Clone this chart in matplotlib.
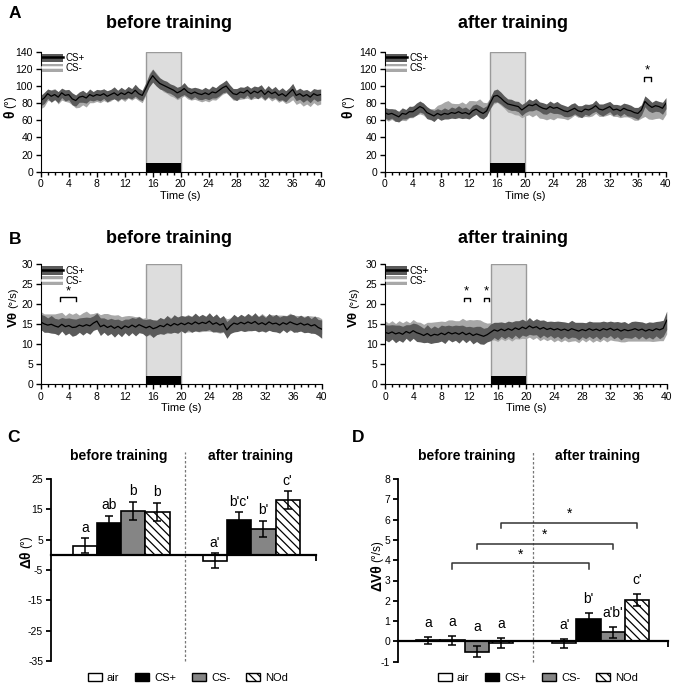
import matplotlib
matplotlib.use('agg')
import matplotlib.pyplot as plt
from matplotlib.patches import Patch
from matplotlib.lines import Line2D
from matplotlib.ticker import MultipleLocator
import numpy as np

plt.rcParams['font.family'] = ['Liberation Sans', 'DejaVu Sans']
plt.rcParams['hatch.linewidth'] = 0.9
plt.rcParams['axes.unicode_minus'] = False

W, H = 675, 684

# sampling of the traces (s)
times = np.arange(0, 40.5, 0.5)

# A: head angle theta (deg), mean traces
a_pre_csp = [83, 86, 91, 88, 90, 87, 92, 89, 90, 85,
             83, 87, 88, 86, 90, 88, 90, 89, 91, 88,
             90, 92, 89, 92, 90, 93, 91, 95, 91, 89,
             97, 106, 112, 107, 103, 101, 99, 97, 95, 92,
             94, 97, 93, 91, 93, 91, 90, 92, 90, 93,
             92, 95, 98, 100, 95, 91, 90, 93, 92, 95,
             91, 94, 92, 95, 90, 94, 91, 93, 89, 91,
             88, 92, 96, 89, 91, 88, 90, 87, 91, 89,
             90]
a_pre_csm = [80, 83, 89, 89, 91, 86, 90, 88, 88, 84,
             81, 82, 84, 82, 86, 87, 88, 87, 90, 87,
             89, 91, 88, 91, 89, 92, 90, 93, 89, 87,
             95, 108, 114, 109, 104, 100, 97, 95, 93, 91,
             92, 95, 91, 89, 91, 89, 88, 90, 89, 91,
             90, 93, 97, 99, 94, 90, 89, 91, 91, 93,
             90, 92, 91, 93, 89, 92, 89, 91, 88, 89,
             86, 88, 90, 85, 86, 83, 85, 83, 86, 84,
             85]
a_post_csp = [69, 67, 68, 66, 64, 68, 67, 70, 70, 73,
              76, 74, 69, 67, 65, 68, 66, 68, 67, 69,
              68, 70, 68, 69, 67, 71, 73, 70, 68, 71,
              80, 88, 89, 86, 82, 79, 78, 77, 76, 72,
              75, 78, 77, 79, 76, 74, 73, 76, 74, 75,
              73, 71, 70, 72, 74, 71, 70, 73, 72, 74,
              77, 73, 72, 74, 76, 72, 73, 71, 74, 72,
              71, 69, 68, 72, 82, 78, 75, 77, 76, 74,
              80]
a_post_csm = [68, 66, 67, 65, 65, 67, 66, 69, 70, 72,
              74, 73, 68, 67, 68, 71, 73, 75, 76, 74,
              73, 74, 75, 73, 76, 77, 76, 78, 75, 74,
              80, 86, 87, 84, 80, 76, 74, 73, 72, 70,
              71, 73, 70, 72, 69, 68, 67, 69, 68, 70,
              69, 68, 67, 70, 72, 70, 69, 71, 70, 72,
              74, 71, 70, 72, 73, 70, 71, 69, 71, 70,
              69, 67, 66, 69, 70, 68, 67, 69, 68, 67,
              73]
# half-width of the SEM bands (deg)
a_sem = [6.0, 6.5, 5.5, 7.0, 6.0, 6.5, 5.5, 6.5, 6.0, 7.0,
         6.5, 6.0, 7.0, 6.0, 6.5, 5.5, 6.0, 6.5, 5.5, 6.5,
         6.0, 7.0, 6.0, 6.5, 5.5, 6.5, 6.0, 7.0, 6.5, 6.0,
         6.5, 7.0, 7.5, 7.0, 6.5, 6.0, 6.5, 5.5, 6.0, 6.5,
         6.0, 7.0, 6.0, 6.5, 5.5, 6.5, 6.0, 6.5, 6.0, 7.0,
         6.0, 6.5, 6.0, 7.0, 6.5, 6.0, 7.0, 6.0, 6.5, 5.5,
         6.5, 6.0, 7.0, 6.5, 6.0, 6.5, 5.5, 6.5, 6.0, 7.0,
         6.5, 6.0, 7.0, 6.0, 6.5, 7.0, 6.0, 6.5, 6.0, 7.0,
         6.5]

# B: angular velocity V-theta (deg/s)
b_pre_csp = [15.6, 15.1, 14.8, 15.0, 14.6, 14.3, 15.0, 14.4, 14.7, 14.2,
             14.3, 14.8, 14.5, 14.9, 14.6, 15.3, 15.8, 14.4, 14.8, 14.2,
             14.6, 14.0, 14.5, 13.9, 14.6, 14.2, 14.8, 14.3, 14.9, 14.5,
             14.1, 14.5, 13.9, 14.2, 14.7, 14.4, 15.1, 14.6, 15.2, 14.8,
             15.3, 14.9, 15.4, 15.0, 15.6, 15.1, 15.5, 15.2, 15.8, 15.0,
             15.4, 14.8, 15.2, 13.6, 14.6, 15.3, 15.0, 15.5, 15.1, 15.6,
             15.2, 15.7, 15.0, 15.4, 14.9, 15.6, 15.1, 15.3, 14.8, 15.4,
             15.0, 15.6, 15.2, 14.9, 15.3, 14.8, 15.1, 14.6, 14.9, 14.2,
             13.8]
b_pre_csm = [15.9, 15.6, 15.4, 15.8, 15.5, 15.9, 16.0, 15.4, 15.7, 15.6,
             15.8, 15.5, 15.9, 16.1, 15.7, 15.6, 16.2, 15.4, 15.8, 15.5,
             15.6, 15.2, 15.5, 14.9, 15.3, 15.0, 15.2, 14.8, 15.0, 14.7,
             14.5, 14.2, 14.0, 14.3, 14.6, 14.5, 14.9, 14.7, 15.0, 14.8,
             15.2, 15.0, 15.3, 14.9, 15.4, 15.0, 15.2, 15.1, 15.5, 15.0,
             15.1, 14.6, 15.0, 14.2, 14.7, 15.2, 15.1, 15.4, 15.0, 15.5,
             15.3, 15.6, 15.2, 15.5, 15.0, 15.6, 15.3, 15.4, 15.1, 15.5,
             15.2, 15.6, 15.4, 15.1, 15.5, 15.0, 15.3, 14.9, 15.2, 14.8,
             14.5]
b_post_csp = [13.0, 12.7, 13.1, 12.6, 12.9, 12.5, 13.2, 12.8, 13.4, 12.9,
              12.6, 12.2, 12.7, 12.1, 12.5, 12.3, 12.8, 12.4, 13.0, 12.6,
              12.9, 12.5, 13.0, 12.4, 12.8, 12.2, 12.6, 12.3, 12.0, 12.4,
              13.0, 13.6, 13.3, 13.8, 13.4, 13.9, 13.5, 14.1, 13.7, 14.3,
              13.9, 14.6, 14.1, 14.4, 13.8, 14.2, 13.7, 14.0, 13.6, 13.9,
              13.5, 13.8, 13.4, 13.9, 13.6, 13.3, 13.7, 13.4, 13.9, 13.5,
              13.8, 13.4, 13.9, 13.6, 14.0, 13.5, 13.8, 13.3, 13.7, 13.4,
              13.6, 13.9, 13.5, 13.8, 13.3, 13.7, 13.4, 13.9, 13.6, 14.0,
              16.0]
b_post_csm = [13.6, 13.3, 13.7, 13.4, 13.8, 13.5, 13.9, 13.6, 14.0, 13.7,
              13.4, 13.2, 13.5, 13.3, 13.7, 13.6, 14.0, 13.7, 14.2, 13.9,
              14.1, 13.8, 14.6, 14.0, 14.4, 13.9, 14.3, 14.0, 13.6, 13.5,
              13.2, 13.0, 12.8, 13.2, 12.9, 13.3, 13.0, 13.4, 13.1, 13.6,
              13.3, 13.8, 13.4, 13.5, 13.0, 13.3, 12.9, 13.1, 12.8, 13.0,
              12.7, 12.9, 12.6, 13.0, 12.8, 12.5, 12.9, 12.6, 13.0, 12.7,
              12.9, 12.6, 13.0, 12.8, 13.1, 12.7, 12.9, 12.5, 12.8, 12.6,
              12.8, 13.0, 12.7, 12.9, 12.5, 12.8, 12.6, 13.0, 12.7, 13.0,
              14.5]
b_sem = [1.9, 2.1, 1.8, 2.2, 1.9, 2.0, 1.7, 2.1, 1.9, 2.2,
         2.0, 1.8, 2.2, 1.9, 2.1, 1.8, 2.0, 2.2, 1.8, 2.0,
         1.9, 2.2, 1.8, 2.0, 1.7, 2.1, 1.9, 2.2, 2.0, 1.8,
         2.1, 1.9, 2.2, 1.8, 2.0, 1.9, 2.1, 1.8, 2.2, 2.0,
         1.9, 2.1, 1.8, 2.0, 2.2, 1.9, 2.0, 1.8, 2.1, 1.9,
         2.2, 1.8, 2.0, 2.1, 1.9, 2.2, 1.8, 2.0, 1.9, 2.1,
         1.8, 2.2, 1.9, 2.0, 1.8, 2.1, 1.9, 2.2, 2.0, 1.8,
         2.1, 1.9, 2.2, 1.8, 2.0, 1.9, 2.1, 1.8, 2.2, 2.0,
         2.3]

# significance brackets on traces: (t start, t end)
a_post_sig = [(36.9, 37.8)]
b_pre_sig = [(2.8, 5.0)]
b_post_sig = [(11.2, 12.0), (14.0, 14.8)]

# C / D bar charts
groups = ['air', 'CS+', 'CS-', 'NOd']
c_pre = [3.0, 10.5, 14.5, 14.2]
c_pre_err = [2.5, 2.4, 3.0, 3.0]
c_post = [-2.0, 11.5, 8.5, 18.0]
c_post_err = [2.5, 2.5, 2.7, 3.0]
c_pre_lab = ['a', 'ab', 'b', 'b']
c_post_lab = ["a'", "b'c'", "b'", "c'"]

d_pre = [0.05, 0.05, -0.5, -0.08]
d_pre_err = [0.18, 0.22, 0.25, 0.25]
d_post = [-0.1, 1.1, 0.45, 2.05]
d_post_err = [0.22, 0.32, 0.27, 0.3]
d_pre_lab = ['a', 'a', 'a', 'a']
d_post_lab = ["a'", "b'", "a'b'", "c'"]
# before vs after comparisons in D: (group index, bracket height)
d_sig = [(1, 3.85), (2, 4.81), (3, 5.85)]

bar_faces = ['white', 'black', '#858585', 'white']
bar_hatch = [None, None, None, '\\\\\\\\']


def px_axes(fig, left, top, right, bottom):
    return fig.add_axes([left / W, 1 - bottom / H, (right - left) / W, (bottom - top) / H])


def ftext(fig, x, y, s, **kw):
    return fig.text(x / W, 1 - y / H, s, **kw)


def ylabel2(fig, x, y, bold, rest, size=10):
    """bold symbol part + plain unit part, rotated"""
    ftext(fig, x, y, bold, rotation=90, ha='center', va='top', fontsize=size, fontweight='bold')
    ftext(fig, x, y - 2.5, rest, rotation=90, ha='center', va='bottom', fontsize=size - 1.5)


def trace_panel(fig, box, csp, csm, sem, ymax, ystep, sig, sig_y, ylab):
    ax = px_axes(fig, *box)
    csp = np.array(csp)
    csm = np.array(csm)
    sem = np.array(sem)
    ax.axvspan(15, 20, facecolor='#dddddd', edgecolor='#9a9a9a', lw=1, zorder=0)
    ax.fill_between(times, csm - sem[::-1], csm + sem[::-1], color='#a8a8a8', lw=0, zorder=1)
    ax.fill_between(times, csp - sem, csp + sem, color='#5a5a5a', lw=0, zorder=2)
    ax.plot(times, csp, color='k', lw=0.9, zorder=3)
    ax.axvspan(15, 20, ymin=0, ymax=0.07, color='k', lw=0, zorder=4)

    for t0, t1 in sig:
        y0, y1 = sig_y
        ax.plot([t0, t0, t1, t1], [y0, y1, y1, y0], color='k', lw=1, zorder=5)
        ax.text((t0 + t1) / 2, y1, '*', ha='center', va='bottom', fontsize=9.5)

    ax.set_xlim(0, 40)
    ax.set_ylim(0, ymax)
    ax.xaxis.set_major_locator(MultipleLocator(4))
    ax.xaxis.set_minor_locator(MultipleLocator(1))
    ax.yaxis.set_major_locator(MultipleLocator(ystep))
    ax.spines['top'].set_visible(False)
    ax.spines['right'].set_visible(False)
    ax.tick_params(which='major', length=3.5, width=1, pad=2, labelsize=7.5)
    ax.tick_params(which='minor', length=2.5, width=1)
    ax.set_xlabel('Time (s)', fontsize=8, labelpad=1)

    hands = [(Patch(facecolor='#5a5a5a', edgecolor='none'), Line2D([], [], color='k', lw=1.8)),
             (Patch(facecolor='#a8a8a8', edgecolor='none'), Line2D([], [], color='white', lw=1.8))]
    ax.legend(hands, ['CS+', 'CS-'], loc='upper left', bbox_to_anchor=(0.0, 1.0),
              frameon=False, fontsize=7, handlelength=2.1, handleheight=0.95,
              handletextpad=0.25, labelspacing=0.0, borderpad=0.05, borderaxespad=0.1)

    ylabel2(fig, *ylab)
    return ax


def bar_panel(fig, box, pre, pre_err, post, post_err, pre_lab, post_lab,
              ylim, ystep, pre_start, post_start, dash_x, xmax, lab_off, dash_top):
    ax = px_axes(fig, *box)
    xs = [pre_start + 0.5 + i for i in range(4)] + [post_start + 0.5 + i for i in range(4)]
    vals = list(pre) + list(post)
    errs = list(pre_err) + list(post_err)
    labs = list(pre_lab) + list(post_lab)
    for i, (x, v, e) in enumerate(zip(xs, vals, errs)):
        k = i % 4
        ax.bar(x, v, width=1.0, facecolor=bar_faces[k], edgecolor='black', lw=1.2,
               hatch=bar_hatch[k], zorder=2)
        ax.errorbar(x, v, yerr=e, color='black', lw=1.1, capsize=3, capthick=1.1, zorder=3)
        top = max(v + e, 0)
        ax.annotate(labs[i], (x, top), xytext=(0, lab_off), textcoords='offset points',
                    ha='center', va='bottom', fontsize=10)

    ax.plot([dash_x, dash_x], [ylim[0], dash_top], color='#777777', lw=0.9,
            ls=(0, (2, 1.6)), clip_on=False, zorder=1)

    ax.set_xlim(0, xmax)
    ax.set_ylim(*ylim)
    ax.yaxis.set_major_locator(MultipleLocator(ystep))
    for s in ['top', 'right']:
        ax.spines[s].set_visible(False)
    ax.spines['bottom'].set_position(('data', 0))
    ax.spines['bottom'].set_linewidth(1.6)
    ax.spines['left'].set_linewidth(1.3)
    ax.set_xticks([xmax])
    ax.set_xticklabels([''])
    ax.tick_params(axis='x', length=4, width=1.3)
    ax.tick_params(axis='y', length=3.5, width=1.3, pad=2, labelsize=7.5)
    return ax, xs


def bar_legend(ax, cx, cy):
    hands = [Patch(facecolor=f, edgecolor='black', lw=1, hatch=h) for f, h in zip(bar_faces, bar_hatch)]
    ax.legend(hands, groups, loc='center', bbox_to_anchor=(cx / W, 1 - cy / H),
              bbox_transform=ax.figure.transFigure, ncol=4, frameon=False, fontsize=8,
              handlelength=1.25, handleheight=0.8, handletextpad=0.45, columnspacing=1.45,
              borderpad=0.1)


fig = plt.figure(figsize=(W / 100, H / 100), dpi=100)

# ---- A ----
trace_panel(fig, (40.7, 51.7, 320.7, 171.7), a_pre_csp, a_pre_csm, a_sem, 140, 20,
            [], (0, 0), (10, 110, '\u03b8', '(\u00b0)'))
trace_panel(fig, (384.7, 51.7, 666, 171.7), a_post_csp, a_post_csm, a_sem, 140, 20,
            a_post_sig, (106, 111), (348, 110, '\u03b8', '(\u00b0)'))
# ---- B ----
trace_panel(fig, (40.7, 264.3, 321.7, 384.3), b_pre_csp, b_pre_csm, b_sem, 30, 5,
            b_pre_sig, (20.9, 21.8), (13.5, 311, 'V\u03b8', '(\u00b0/s)', 9.5))
trace_panel(fig, (385, 264.3, 666.7, 384.3), b_post_csp, b_post_csm, b_sem, 30, 5,
            b_post_sig, (20.8, 21.7), (354, 311, 'V\u03b8', '(\u00b0/s)', 9.5))

for x, y, s in [(169, 24, 'before training'), (513, 24, 'after training'),
                (169, 239, 'before training'), (513, 239, 'after training')]:
    ftext(fig, x, y, s, ha='center', va='center', fontsize=13, fontweight='bold')

# ---- C ----
ax_c, xs_c = bar_panel(fig, (50.7, 479, 316, 661), c_pre, c_pre_err, c_post, c_post_err,
                       c_pre_lab, c_post_lab, (-35, 25), 10, 0.91, 6.29, 5.56, 10.96, 2.5, 34)
ax_c.set_yticks([25, 15, 5, -5, -15, -25, -35])
ylabel2(fig, 26, 551, '\u0394\u03b8', '(\u00b0)')
bar_legend(ax_c, 188, 678)

# ---- D ----
ax_d, xs_d = bar_panel(fig, (397.7, 479, 668, 661.7), d_pre, d_pre_err, d_post, d_post_err,
                       d_pre_lab, d_post_lab, (-1, 8), 1, 0.75, 6.34, 5.57, 11.1, 5, 9.4)
for k, yb in d_sig:
    x0, x1 = xs_d[k], xs_d[k + 4]
    ax_d.plot([x0, x0, x1, x1], [yb - 0.28, yb, yb, yb - 0.28], color='#333333', lw=1.1)
    ax_d.text((x0 + x1) / 2, yb + 0.08, '*', ha='center', va='bottom', fontsize=10)
ylabel2(fig, 377, 564, '\u0394V\u03b8', '(\u00b0/s)')
bar_legend(ax_d, 538, 678)

for x, y, s in [(119, 456, 'before training'), (251, 456, 'after training'),
                (467, 456, 'before training'), (598, 456, 'after training')]:
    ftext(fig, x, y, s, ha='center', va='center', fontsize=10, fontweight='bold')

# panel letters
for x, y, s in [(15, 13, 'A'), (15, 240, 'B'), (14, 437, 'C'), (358, 437, 'D')]:
    ftext(fig, x, y, s, ha='center', va='center', fontsize=12.5, fontweight='bold')

fig.savefig('out.png', dpi=100)
